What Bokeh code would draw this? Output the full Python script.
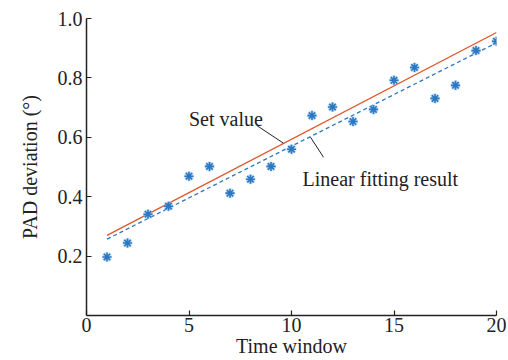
from bokeh.plotting import figure
from bokeh.models import FixedTicker, NumeralTickFormatter, Label, ColumnDataSource
from bokeh.embed import file_html
from bokeh.resources import INLINE

windows = list(range(1, 21))
pad_measured = [0.197, 0.244, 0.341, 0.368, 0.469, 0.502, 0.412, 0.459, 0.502, 0.560,
                0.673, 0.702, 0.653, 0.694, 0.792, 0.835, 0.731, 0.775, 0.892, 0.923]
set_x = [1, 20]
set_y = [0.270, 0.953]
fit_x = [1, 20]
fit_y = [0.257, 0.918]
x_ticks = [0, 5, 10, 15, 20]
y_ticks = [0.2, 0.4, 0.6, 0.8, 1.0]

FONT = "Liberation Serif"
BLUE = "#2a78c2"
RED = "#e0542a"
INK = "#222222"

p = figure(width=508, height=360, output_backend="svg", toolbar_location=None,
           x_range=(0, 20), y_range=(0, 1.0),
           min_border_left=86, min_border_right=12, min_border_top=18, min_border_bottom=45)
p.outline_line_color = None
p.grid.visible = False
p.background_fill_color = "white"

p.line(set_x, set_y, line_color=RED, line_width=1.3)
p.line(fit_x, fit_y, line_color=BLUE, line_width=1.3, line_dash="4 3")
p.scatter(windows, pad_measured, marker="asterisk", size=10, line_color="#9cc3e8", line_width=3, line_alpha=0.6)
p.scatter(windows, pad_measured, marker="asterisk", size=9, line_color=BLUE, line_width=1.6)

for ax in (p.xaxis, p.yaxis):
    ax.axis_line_color = INK
    ax.axis_line_width = 1.5
    ax.major_tick_line_color = INK
    ax.major_tick_line_width = 1.2
    ax.major_tick_in = 5
    ax.major_tick_out = 0
    ax.minor_tick_line_color = None
    ax.major_label_text_font = FONT
    ax.major_label_text_font_size = "20px"
    ax.major_label_text_color = INK
    ax.axis_label_text_font = FONT
    ax.axis_label_text_font_size = "20px"
    ax.axis_label_text_font_style = "normal"
    ax.axis_label_text_color = INK

p.xaxis.ticker = FixedTicker(ticks=x_ticks)
p.yaxis.ticker = FixedTicker(ticks=y_ticks)
p.yaxis.formatter = NumeralTickFormatter(format="0.0")
p.xaxis.axis_label = "Time window"
p.yaxis.axis_label = "PAD deviation (°)"
p.xaxis.major_label_standoff = 2
p.xaxis.axis_label_standoff = 0
p.yaxis.major_label_standoff = 4
p.yaxis.axis_label_standoff = 14

# annotations
p.add_layout(Label(x=5.0, y=0.660, text="Set value", text_font=FONT, text_font_size="20px",
                   text_color=INK, text_baseline="alphabetic"))
p.add_layout(Label(x=10.54, y=0.459, text="Linear fitting result", text_font=FONT,
                   text_font_size="20px", text_color=INK, text_baseline="alphabetic"))
lead = ColumnDataSource(dict(x0=[8.3, 10.93], y0=[0.640, 0.600], x1=[9.61, 11.56], y1=[0.580, 0.533]))
p.segment(x0="x0", y0="y0", x1="x1", y1="y1", source=lead, line_color=INK, line_width=1)

open("out.html", "w").write(file_html(p, INLINE))
